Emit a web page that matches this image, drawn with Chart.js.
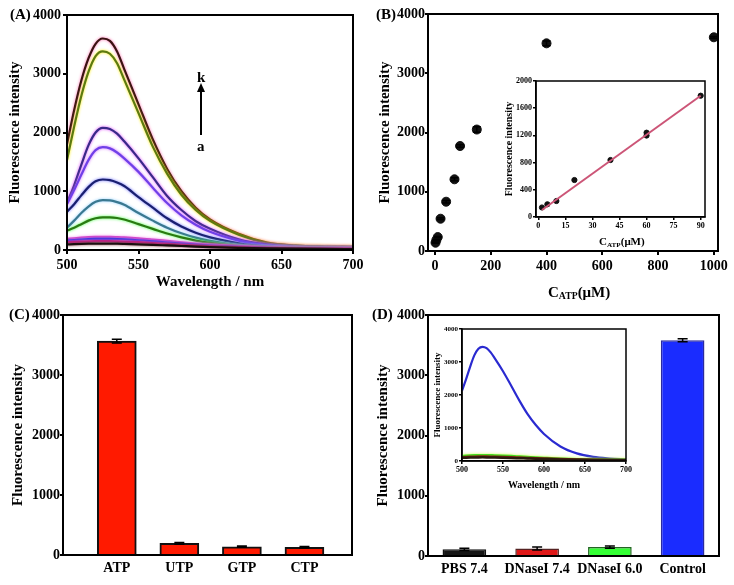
<!DOCTYPE html>
<html>
<head>
<meta charset="utf-8">
<script src="https://cdn.jsdelivr.net/npm/chart.js@4"></script>
<style>
  body { margin: 0; background: #fff; }
  #fig { position: relative; width: 734px; height: 585px; overflow: hidden; background: #fff;
         font-family: 'Liberation Serif', 'Times New Roman', serif; font-weight: bold; color: #000; }
  canvas { position: absolute; }
  .lbl { position: absolute; white-space: nowrap; line-height: 1; }
  .lbl sub { font-size: 65%; vertical-align: -0.25em; }
</style>
</head>
<body>
<div id="fig">
  <canvas id="cA" width="367" height="295" style="left:0;top:0"></canvas>
  <canvas id="cB" width="367" height="305" style="left:367px;top:0"></canvas>
  <canvas id="cC" width="367" height="295" style="left:0;top:290px"></canvas>
  <canvas id="cD" width="367" height="295" style="left:367px;top:290px"></canvas>
  <canvas id="cBi" width="220" height="180" style="left:495px;top:75px"></canvas>
  <canvas id="cDi" width="210" height="175" style="left:425px;top:320px"></canvas>

  <div class="lbl" style="left:10px;top:7px;font-size:15px">(A)</div>
  <div class="lbl" style="left:197px;top:70px;font-size:15px">k</div>
  <div style="position:absolute;left:197px;top:83px;width:0;height:0;border-left:4px solid transparent;border-right:4px solid transparent;border-bottom:9px solid #000"></div>
  <div style="position:absolute;left:200px;top:90px;width:2px;height:45px;background:#000"></div>
  <div class="lbl" style="left:197px;top:139px;font-size:15px">a</div>

  <div class="lbl" style="left:376px;top:7px;font-size:15px">(B)</div>
  <div class="lbl" style="left:548px;top:285px;font-size:15px">C<sub>ATP</sub>(μM)</div>
  <div class="lbl" style="left:599px;top:236px;font-size:11px">C<sub>ATP</sub>(μM)</div>

  <div class="lbl" style="left:9px;top:307px;font-size:15px">(C)</div>
  <div class="lbl" style="left:372px;top:307px;font-size:15px">(D)</div>
</div>

<script>
const FONT = "'Liberation Serif', 'Times New Roman', serif";

// (A) emission spectra a..k, one value per wavelength in WAVES
const WAVES = [500, 505, 510, 515, 520, 525, 530, 535, 540, 550, 560, 570, 580, 590, 600, 620, 640, 660, 680, 700];
const SPEC_A = [95, 100, 104, 107, 109, 110, 109, 107, 104, 97, 88, 78, 68, 58, 50, 37, 28, 22, 18, 16];
const SPEC_B = [130, 137, 143, 147, 150, 151, 150, 147, 143, 133, 119, 103, 88, 74, 62, 44, 32, 25, 20, 18];
const SPEC_C = [160, 170, 178, 184, 188, 190, 188, 185, 180, 166, 148, 128, 108, 91, 76, 54, 38, 29, 23, 20];
const SPEC_D = [190, 200, 210, 218, 222, 224, 223, 219, 214, 199, 178, 155, 132, 111, 93, 65, 45, 33, 26, 22];
const SPEC_E = [330, 380, 440, 500, 540, 557, 556, 545, 520, 440, 360, 280, 215, 160, 120, 68, 40, 26, 19, 16];
const SPEC_F = [380, 500, 630, 740, 820, 850, 845, 815, 770, 630, 500, 380, 285, 210, 155, 85, 48, 30, 22, 18];
const SPEC_G = [650, 780, 930, 1070, 1170, 1200, 1190, 1150, 1090, 900, 720, 540, 400, 295, 215, 115, 60, 36, 26, 22];
const SPEC_H = [780, 1020, 1280, 1530, 1700, 1750, 1730, 1660, 1560, 1330, 1060, 800, 590, 430, 310, 160, 80, 45, 32, 28];
const SPEC_I = [800, 1100, 1450, 1780, 2000, 2080, 2060, 1980, 1850, 1560, 1240, 920, 680, 490, 360, 180, 90, 50, 35, 30];
const SPEC_J = [1530, 2100, 2620, 3030, 3300, 3380, 3340, 3180, 2900, 2330, 1760, 1300, 940, 680, 495, 260, 118, 74, 59, 54];
const SPEC_K = [1800, 2380, 2880, 3260, 3510, 3600, 3560, 3380, 3080, 2480, 1880, 1380, 1000, 720, 520, 275, 125, 75, 60, 55];
const A_X_TICKS = [500, 550, 600, 650, 700];
const A_Y_TICKS = [0, 1000, 2000, 3000, 4000];

// (B) intensity vs ATP concentration, inset = linear range
const B_CONC = [2, 5, 10, 20, 40, 70, 90, 150, 400, 1000];
const B_INT = [140, 185, 235, 545, 832, 1210, 1772, 2050, 3505, 3607];
const B_ERR = [10, 10, 10, 15, 20, 25, 20, 45, 40, 15];
const B_X_TICKS = [0, 200, 400, 600, 800, 1000];
const B_Y_TICKS = [0, 1000, 2000, 3000, 4000];
const BI_CONC = [2, 5, 10, 20, 40, 60, 60, 90];
const BI_INT = [140, 187, 235, 544, 838, 1198, 1240, 1784];
const FIT_CONC = [2, 90];
const FIT_INT = [103, 1784];
const BI_X_TICKS = [0, 15, 30, 45, 60, 75, 90];
const BI_Y_TICKS = [0, 400, 800, 1200, 1600, 2000];

// (C) selectivity
const C_LABELS = ['ATP', 'UTP', 'GTP', 'CTP'];
const C_POS = [1, 2, 3, 4];
const C_INT = [3565, 195, 138, 128];
const C_ERR = [30, 15, 10, 12];

// (D) DNase I resistance, inset = spectra
const D_LABELS = ['PBS 7.4', 'DNaseI 7.4', 'DNaseI 6.0', 'Control'];
const D_INT = [110, 125, 148, 3580];
const D_ERR = [20, 25, 20, 25];
const DI_BLACK = [95, 100, 104, 107, 109, 110, 109, 107, 105, 99, 92, 84, 76, 68, 61, 48, 38, 32, 28, 26];
const DI_RED = [115, 122, 128, 132, 134, 135, 134, 132, 129, 122, 113, 103, 93, 83, 74, 58, 46, 38, 33, 30];
const DI_GREEN = [150, 160, 168, 173, 176, 177, 176, 173, 170, 160, 148, 134, 120, 106, 94, 72, 56, 46, 40, 36];
const DI_BLUE = [2130, 2480, 2860, 3200, 3400, 3460, 3420, 3290, 3110, 2720, 2280, 1830, 1420, 1090, 820, 440, 230, 125, 75, 45];
const DI_Y_TICKS = [0, 1000, 2000, 3000, 4000];

// closed box round the plot area
const framePlugin = {
  id: 'frame',
  defaults: { width: 2 },
  afterDatasetsDraw(chart, args, opts) {
    const { left, top, right, bottom } = chart.chartArea;
    const ctx = chart.ctx;
    ctx.save();
    ctx.lineWidth = opts.width;
    ctx.strokeStyle = '#000';
    ctx.strokeRect(left, top, right - left, bottom - top);
    ctx.restore();
  }
};

// vertical error bars from dataset.errors
const errorBars = {
  id: 'errorBars',
  afterDatasetsDraw(chart) {
    const ctx = chart.ctx;
    const y = chart.scales.y;
    chart.data.datasets.forEach((ds, di) => {
      if (!ds.errors) return;
      const cap = ds.errorCap || 4;
      chart.getDatasetMeta(di).data.forEach((el, i) => {
        const d = ds.data[i];
        const v = typeof d === 'object' ? d.y : d;
        const hi = y.getPixelForValue(v + ds.errors[i]);
        const lo = y.getPixelForValue(v - ds.errors[i]);
        ctx.save();
        ctx.strokeStyle = '#000';
        ctx.lineWidth = 1.5;
        ctx.beginPath();
        ctx.moveTo(el.x, hi); ctx.lineTo(el.x, lo);
        ctx.moveTo(el.x - cap, hi); ctx.lineTo(el.x + cap, hi);
        ctx.moveTo(el.x - cap, lo); ctx.lineTo(el.x + cap, lo);
        ctx.stroke();
        ctx.restore();
      });
    });
  }
};

// soft coloured halo round the spectra
const glowPlugin = {
  id: 'glow',
  beforeDatasetDraw(chart, args) {
    const ds = chart.data.datasets[args.index];
    if (!ds.glow) return;
    chart.ctx.save();
    chart.ctx.shadowColor = ds.glow;
    chart.ctx.shadowBlur = 3;
  },
  afterDatasetDraw(chart, args) {
    if (chart.data.datasets[args.index].glow) chart.ctx.restore();
  }
};

Chart.register(framePlugin, errorBars, glowPlugin);
Chart.defaults.font.family = FONT;
Chart.defaults.color = '#000';

function axis(o) {
  const a = {
    type: o.type || 'linear',
    offset: !!o.offset,
    afterFit: s => { if (o.y) s.width = o.fit; else s.height = o.fit; },
    grid: { display: true, drawOnChartArea: false, drawTicks: !!o.tick, tickLength: o.tick || 0,
            color: '#000', lineWidth: o.lw, offset: !!o.offset },
    border: { display: true, color: '#000', width: o.lw },
    ticks: { color: '#000', padding: o.pad, autoSkip: false, maxRotation: 0, minRotation: 0,
             font: { family: FONT, weight: 'bold', size: o.size } },
    title: { display: !!o.title, text: o.title || '', color: '#000', padding: o.tpad || 0,
             font: { family: FONT, weight: 'bold', size: o.tsize || 15 } }
  };
  if (o.min !== undefined) { a.min = o.min; a.max = o.max; }
  if (o.values) a.afterBuildTicks = s => { s.ticks = o.values.map(v => ({ value: v })); };
  if (o.fmt) a.ticks.callback = o.fmt;
  else if (a.type === 'linear') a.ticks.callback = v => v;
  return a;
}

function baseOptions(pad, scales, frameWidth) {
  return {
    responsive: false,
    animation: false,
    layout: { padding: { top: pad.top, right: pad.right, left: 0, bottom: 0 } },
    plugins: { legend: { display: false }, tooltip: { enabled: false }, frame: { width: frameWidth || 2 } },
    scales
  };
}

function spectrum(values, color, glow, width) {
  return {
    data: WAVES.map((w, i) => ({ x: w, y: values[i] })),
    borderColor: color, glow, borderWidth: width || 2.2,
    pointRadius: 0, cubicInterpolationMode: 'monotone', fill: false
  };
}

// (A)
new Chart(document.getElementById('cA'), {
  type: 'line',
  data: {
    datasets: [
      spectrum(SPEC_A, '#1a1010', '#884444'),
      spectrum(SPEC_B, '#c0208a', '#ff66cc'),
      spectrum(SPEC_C, '#3030e0', '#7777ff'),
      spectrum(SPEC_D, '#e040c0', '#ff99ee'),
      spectrum(SPEC_E, '#2a7a12', '#44ff44'),
      spectrum(SPEC_F, '#3a7890', '#88ccff'),
      spectrum(SPEC_G, '#1a2070', '#6a6aff'),
      spectrum(SPEC_H, '#7040e8', '#cc66ff'),
      spectrum(SPEC_I, '#3a2a88', '#dd44ff'),
      spectrum(SPEC_J, '#5c7a10', '#ffee00'),
      spectrum(SPEC_K, '#3a1212', '#ff66aa')
    ]
  },
  options: baseOptions({ top: 15, right: 14 }, {
    x: axis({ min: 500, max: 700, values: A_X_TICKS, fit: 45, size: 14, tick: 4, pad: 3, lw: 2,
              title: 'Wavelength / nm', tpad: 4 }),
    y: axis({ y: true, min: 0, max: 4000, values: A_Y_TICKS, fit: 67, size: 14, tick: 4, pad: 2, lw: 2,
              title: 'Fluorescence intensity', tpad: 6 })
  })
});

// (B)
new Chart(document.getElementById('cB'), {
  type: 'scatter',
  data: {
    datasets: [{
      data: B_CONC.map((c, i) => ({ x: c, y: B_INT[i] })),
      errors: B_ERR, errorCap: 4,
      pointRadius: 4.5, backgroundColor: '#111', borderColor: '#111'
    }]
  },
  options: baseOptions({ top: 14, right: 16 }, {
    x: axis({ min: -25, max: 1015, values: B_X_TICKS, fit: 54, size: 14, tick: 4, pad: 3, lw: 2 }),
    y: axis({ y: true, min: 0, max: 4000, values: B_Y_TICKS, fit: 61, size: 14, tick: 3, pad: 0, lw: 2,
              title: 'Fluorescence intensity', tpad: 9 })
  })
});

// (B) inset
new Chart(document.getElementById('cBi'), {
  type: 'scatter',
  data: {
    datasets: [
      {
        data: FIT_CONC.map((c, i) => ({ x: c, y: FIT_INT[i] })),
        showLine: true, borderColor: '#cc5577', borderWidth: 2, pointRadius: 0
      },
      {
        data: BI_CONC.map((c, i) => ({ x: c, y: BI_INT[i] })),
        pointRadius: 2.6, backgroundColor: '#111', borderColor: '#111'
      }
    ]
  },
  options: baseOptions({ top: 6, right: 10 }, {
    x: axis({ min: -1.3, max: 92.4, values: BI_X_TICKS, fit: 38, size: 8, tick: 3, pad: 1, lw: 1.5 }),
    y: axis({ y: true, min: 0, max: 2000, values: BI_Y_TICKS, fit: 41, size: 8, tick: 3, pad: 1, lw: 1.5,
              title: 'Fluorescence intensity', tsize: 10, tpad: 8 })
  }, 1.5)
});

// (C)
new Chart(document.getElementById('cC'), {
  type: 'bar',
  data: {
    datasets: [{
      data: C_POS.map((p, i) => ({ x: p, y: C_INT[i] })),
      errors: C_ERR, errorCap: 5,
      backgroundColor: '#ff1a00', borderColor: '#111', borderWidth: 2, barThickness: 39
    }]
  },
  options: baseOptions({ top: 25, right: 15 }, {
    x: axis({ min: 0.14, max: 4.76, values: C_POS, fit: 30, size: 14, tick: 0, pad: 5, lw: 2,
              fmt: v => C_LABELS[C_POS.indexOf(v)] }),
    y: axis({ y: true, min: 0, max: 4000, values: A_Y_TICKS, fit: 63, size: 14, tick: 3, pad: 0, lw: 2,
              title: 'Fluorescence intensity', tpad: 9 })
  })
});

// (D)
new Chart(document.getElementById('cD'), {
  type: 'bar',
  data: {
    labels: D_LABELS,
    datasets: [{
      data: D_INT,
      errors: D_ERR, errorCap: 5,
      backgroundColor: ['#151515', '#e01818', '#33ff33', '#1a2cff'],
      borderColor: ['#111', '#552222', '#226622', '#2a2aa0'],
      borderWidth: 1.5, barPercentage: 0.6, categoryPercentage: 1
    }]
  },
  options: baseOptions({ top: 25, right: 15 }, {
    x: axis({ type: 'category', offset: true, fit: 29, size: 14, tick: 0, pad: 5, lw: 2 }),
    y: axis({ y: true, min: 0, max: 4000, values: B_Y_TICKS, fit: 61, size: 14, tick: 3, pad: 0, lw: 2,
              title: 'Fluorescence intensity', tpad: 7 })
  })
});

// (D) inset
new Chart(document.getElementById('cDi'), {
  type: 'line',
  data: {
    datasets: [
      spectrum(DI_BLACK, '#2a1a10', null, 2.5),
      spectrum(DI_RED, '#8a2a10', null, 2.5),
      spectrum(DI_GREEN, '#44dd22', '#ccff44', 2.5),
      spectrum(DI_BLUE, '#2a2ad0', null, 2.2)
    ]
  },
  options: baseOptions({ top: 9, right: 9 }, {
    x: axis({ min: 500, max: 700, values: A_X_TICKS, fit: 34, size: 8, tick: 3, pad: 1, lw: 1.5,
              title: 'Wavelength / nm', tsize: 10, tpad: 4 }),
    y: axis({ y: true, min: 0, max: 4000, values: DI_Y_TICKS, fit: 37, size: 7, tick: 3, pad: 1, lw: 1.5,
              title: 'Fluorescence intensity', tsize: 9, tpad: 7 })
  }, 1.5)
});
</script>
</body>
</html>
